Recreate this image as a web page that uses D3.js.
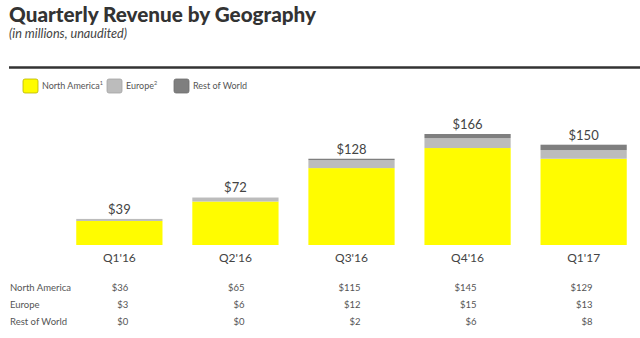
<!DOCTYPE html>
<html>
<head>
<meta charset="utf-8">
<script src="https://cdn.jsdelivr.net/npm/d3@7"></script>
<style>
  html, body { margin: 0; padding: 0; background: #fff; }
  svg { display: block; font-family: Lato, "Open Sans", sans-serif; }
</style>
</head>
<body>
<svg id="chart" width="640" height="338"></svg>
<script>
const categories = ["Q1'16", "Q2'16", "Q3'16", "Q4'16", "Q1'17"];
const northAmerica = [36, 65, 115, 145, 129];
const europe = [3, 6, 12, 15, 13];
const restOfWorld = [0, 0, 2, 6, 8];
const totals = [39, 72, 128, 166, 150];
const seriesNames = ["North America", "Europe", "Rest of World"];
const legendLabels = ["North America", "Europe", "Rest of World"];
const legendSups = ["1", "2", ""];
const colors = ["#FFFC00", "#BCBCBC", "#7F7F7F"];

const svg = d3.select("#chart");

// Title
svg.append("text").attr("x", 9).attr("y", 22)
  .attr("font-size", 21).attr("font-weight", 900).attr("fill", "#333")
  .attr("textLength", 307).attr("lengthAdjust", "spacingAndGlyphs")
  .text("Quarterly Revenue by Geography");
svg.append("text").attr("x", 9).attr("y", 38)
  .attr("font-size", 12.5).attr("font-style", "italic").attr("fill", "#444")
  .attr("textLength", 118).attr("lengthAdjust", "spacingAndGlyphs")
  .text("(in millions, unaudited)");

// Divider line
svg.append("line").attr("x1", 9).attr("x2", 640).attr("y1", 67.5).attr("y2", 67.5)
  .attr("stroke", "#333").attr("stroke-width", 2.5);

// Legend
const legendX = [23, 107, 174];
const lg = svg.append("g");
seriesNames.forEach((s, i) => {
  lg.append("rect").attr("x", legendX[i]).attr("y", 79).attr("width", 15).attr("height", 14)
    .attr("rx", 2).attr("fill", colors[i])
    .attr("stroke", i === 0 ? "#B8B400" : d3.color(colors[i]).darker(0.4)).attr("stroke-width", 0.8);
  const t = lg.append("text").attr("x", legendX[i] + 19).attr("y", 89)
    .attr("font-size", 9).attr("fill", "#555").text(legendLabels[i]);
  if (legendSups[i]) t.append("tspan").attr("font-size", 5.5).attr("dy", -4).text(legendSups[i]);
});

// Scales
const x = d3.scaleBand().domain(categories).range([60, 643]).paddingInner(0.257).paddingOuter(0.14);
const y = d3.scaleLinear().domain([0, 166]).range([245, 134]);

const data = categories.map((c, i) => ({
  cat: c, "North America": northAmerica[i], "Europe": europe[i], "Rest of World": restOfWorld[i], total: totals[i]
}));
const stack = d3.stack().keys(seriesNames)(data);

svg.append("g").selectAll("g").data(stack).join("g")
  .attr("fill", (d, i) => colors[i])
  .selectAll("rect").data(d => d).join("rect")
  .attr("x", d => x(d.data.cat))
  .attr("width", x.bandwidth())
  .attr("y", d => y(d[1]))
  .attr("height", d => y(d[0]) - y(d[1]));

// Total labels
svg.append("g").selectAll("text").data(data).join("text")
  .attr("x", d => x(d.cat) + x.bandwidth() / 2)
  .attr("y", d => y(d.total) - 5)
  .attr("text-anchor", "middle").attr("font-size", 13).attr("fill", "#444")
  .text(d => "$" + d.total);

// Category axis labels
const xAxis = d3.axisBottom(x).tickSize(0).tickPadding(0);
const ax = svg.append("g").attr("transform", "translate(0,253)").call(xAxis);
ax.select(".domain").remove();
ax.selectAll("text").attr("font-size", 12).attr("fill", "#444").attr("font-family", "Lato, sans-serif");

// Table
const rows = [northAmerica, europe, restOfWorld];
const rowY = [290.5, 307.5, 325];
rows.forEach((vals, r) => {
  svg.append("text").attr("x", 10).attr("y", rowY[r]).attr("font-size", 9.5).attr("fill", "#555")
    .text(seriesNames[r]);
  svg.append("g").selectAll("text").data(vals).join("text")
    .attr("x", (d, i) => x(categories[i]) + x.bandwidth() / 2 + 9)
    .attr("y", rowY[r]).attr("text-anchor", "end").attr("font-size", 9.5).attr("fill", "#555")
    .text(d => "$" + d);
});
</script>
</body>
</html>
